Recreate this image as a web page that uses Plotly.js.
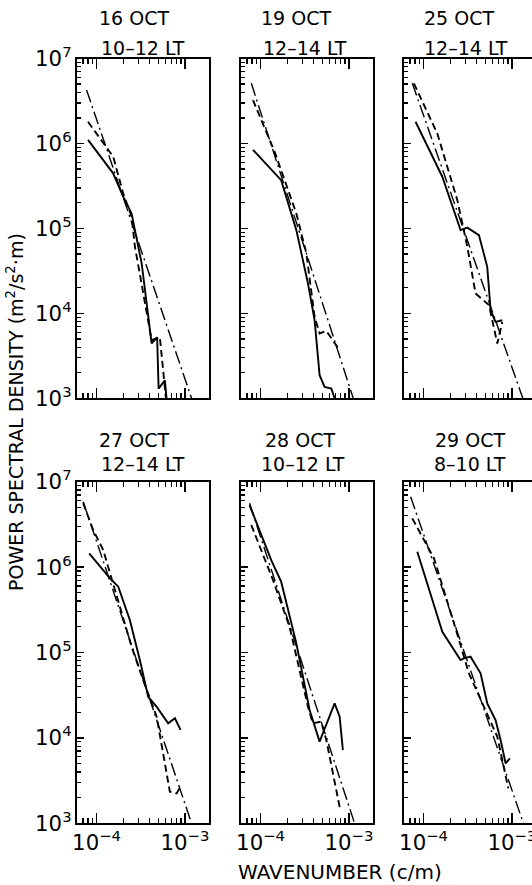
<!DOCTYPE html>
<html>
<head>
<meta charset="utf-8">
<script src="https://cdn.plot.ly/plotly-3.0.1.min.js"></script>
<style>
html,body{margin:0;padding:0;overflow:hidden;background:#fff;}
#chart{width:536px;height:885px;}
</style>
</head>
<body>
<div id="chart"></div>
<script>
// ---- Panel labels ----
const panelDates = ['16 OCT', '19 OCT', '25 OCT', '27 OCT', '28 OCT', '29 OCT'];
const panelTimes = ['10\u201312 LT', '12\u201314 LT', '12\u201314 LT', '12\u201314 LT', '10\u201312 LT', '8\u201310 LT'];

// ---- 16 OCT ----
const oct16SolidX = [8.0e-5, 1.54e-4, 2.0e-4, 2.49e-4, 3.24e-4, 4.2e-4, 4.85e-4, 5.04e-4, 5.93e-4, 6.2e-4];
const oct16SolidY = [1.1e6, 4.45e5, 2.36e5, 1.5e5, 3.87e4, 4.43e3, 5.2e3, 1.3e3, 1.63e3, 1.0e3];
const oct16DashX = [8.0e-5, 1.0e-4, 1.35e-4, 1.54e-4, 2.0e-4, 2.49e-4, 2.72e-4, 4.2e-4, 5.2e-4, 6.1e-4];
const oct16DashY = [1.8e6, 1.31e6, 8.4e5, 7.0e5, 2.58e5, 1.37e5, 6.07e4, 4.83e3, 5.28e3, 1.0e3];
const oct16FitX = [7.7e-5, 1.19e-3];
const oct16FitY = [4.26e6, 1.0e3];

// ---- 19 OCT ----
const oct19SolidX = [8.2e-5, 1.71e-4, 2.54e-4, 3.44e-4, 4.09e-4, 4.66e-4, 5.31e-4, 6.33e-4, 6.89e-4];
const oct19SolidY = [8.4e5, 3.7e5, 9.55e4, 2.25e4, 8.3e3, 1.87e3, 1.36e3, 1.3e3, 1.0e3];
const oct19DashX = [8.2e-5, 1.44e-4, 2.54e-4, 3.3e-4, 4.09e-4, 4.66e-4, 5.55e-4, 7.85e-4];
const oct19DashY = [3.24e6, 8.0e5, 1.5e5, 5.08e4, 9.1e3, 5.8e3, 6.2e3, 3.69e3];
const oct19FitX = [7.85e-5, 1.12e-3];
const oct19FitY = [5.1e6, 1.0e3];

// ---- 25 OCT ----
const oct25SolidX = [8.11e-5, 1.63e-4, 2.62e-4, 3.13e-4, 4.23e-4, 5.26e-4, 5.74e-4, 6.53e-4, 7.78e-4];
const oct25SolidY = [1.8e6, 4.06e5, 9.55e4, 1.02e5, 8.34e4, 3.53e4, 1.09e4, 7.94e3, 8.3e3];
const oct25DashX = [7.76e-5, 1.43e-4, 2.41e-4, 3.13e-4, 3.88e-4, 5.5e-4, 6.84e-4, 7.78e-4];
const oct25DashY = [5.1e6, 1.31e6, 2.15e5, 6.07e4, 1.71e4, 1.25e4, 4.42e3, 7.94e3];
const oct25FitX = [7.45e-5, 1.33e-3];
const oct25FitY = [5.1e6, 1.0e3];

// ---- 27 OCT ----
const oct27SolidX = [8.24e-5, 1.42e-4, 1.76e-4, 2.38e-4, 3.09e-4, 3.84e-4, 4.78e-4, 6.47e-4, 7.71e-4, 8.18e-4, 8.93e-4];
const oct27SolidY = [1.45e6, 7.4e5, 5.9e5, 2.4e5, 8.17e4, 3.03e4, 2.32e4, 1.48e4, 1.7e4, 1.48e4, 1.24e4];
const oct27DashX = [7.05e-5, 9.15e-5, 1.19e-4, 1.92e-4, 2.49e-4, 3.37e-4, 4.79e-4, 6.21e-4, 6.76e-4, 8.05e-4, 8.93e-4];
const oct27DashY = [5.6e6, 2.72e6, 1.58e6, 2.88e5, 1.17e5, 4.76e4, 1.77e4, 3.85e3, 2.34e3, 2.24e3, 2.69e3];
const oct27FitX = [7.05e-5, 1.19e-3];
const oct27FitY = [5.83e6, 1.0e3];

// ---- 28 OCT ----
const oct28SolidX = [7.5e-5, 1.32e-4, 1.71e-4, 2.54e-4, 3.59e-4, 4.66e-4, 6.89e-4, 7.85e-4, 8.55e-4];
const oct28SolidY = [5.33e6, 1.21e6, 6.75e5, 1.28e5, 2.12e4, 9.04e3, 2.54e4, 1.78e4, 7.2e3];
const oct28DashX = [7.85e-5, 1.38e-4, 2.13e-4, 3.44e-4, 3.91e-4, 4.86e-4, 5.55e-4, 7.85e-4, 8.2e-4];
const oct28DashY = [3.11e6, 7.06e5, 2.0e5, 2.32e4, 1.48e4, 1.55e4, 9.44e3, 1.56e3, 1.71e3];
const oct28FitX = [7.5e-5, 1.16e-3];
const oct28FitY = [5.58e6, 1.0e3];

// ---- 29 OCT ----
const oct29SolidX = [8.49e-5, 1.63e-4, 2.62e-4, 2.86e-4, 3.4e-4, 4.42e-4, 5.26e-4, 6.53e-4, 7.45e-4, 8.49e-4, 9.49e-4];
const oct29SolidY = [1.51e6, 1.75e5, 8.17e4, 8.55e4, 8.93e4, 5.7e4, 2.54e4, 1.62e4, 9.44e3, 5.04e3, 5.75e3];
const oct29DashX = [7.45e-5, 1.31e-4, 2.3e-4, 3.26e-4, 4.82e-4, 6.84e-4, 9.1e-4];
const oct29DashY = [3.72e6, 1.27e6, 1.92e5, 5.7e4, 2.32e4, 1.03e4, 2.57e3];
const oct29FitX = [7.13e-5, 1.35e-3];
const oct29FitY = [6.67e6, 1.0e3];

const yTitle = 'POWER SPECTRAL DENSITY (m<sup>2</sup>/s<sup>2</sup>\u00B7m)';
const xTitle = 'WAVENUMBER (c/m)';

const panels = [
  [oct16SolidX, oct16SolidY, oct16DashX, oct16DashY, oct16FitX, oct16FitY],
  [oct19SolidX, oct19SolidY, oct19DashX, oct19DashY, oct19FitX, oct19FitY],
  [oct25SolidX, oct25SolidY, oct25DashX, oct25DashY, oct25FitX, oct25FitY],
  [oct27SolidX, oct27SolidY, oct27DashX, oct27DashY, oct27FitX, oct27FitY],
  [oct28SolidX, oct28SolidY, oct28DashX, oct28DashY, oct28FitX, oct28FitY],
  [oct29SolidX, oct29SolidY, oct29DashX, oct29DashY, oct29FitX, oct29FitY]
];

const W = 536, H = 885;
const FONT = 'DejaVu Sans';
const colLeft = [77, 241, 404];
const colW = 132;
const rowTop = [58.5, 481.7];
const rowBot = [398.3, 823.3];
const line1Y = [18, 440];
const line2Y = [48, 464];
const line1X = [134, 296, 459, 134, 300, 470];
const line2X = [143, 305, 466, 143, 303, 470];
const xRange = [Math.log10(6e-5), Math.log10(6e-5) + colW / 88.3];

const traces = [];
const layout = {
  width: W, height: H,
  margin: {l: 0, r: 0, t: 0, b: 0},
  paper_bgcolor: '#fff', plot_bgcolor: '#fff',
  showlegend: false,
  font: {family: FONT, color: '#000'},
  annotations: []
};

panels.forEach((p, k) => {
  const row = Math.floor(k / 3), col = k % 3;
  const xa = k === 0 ? 'x' : 'x' + (k + 1);
  const ya = k === 0 ? 'y' : 'y' + (k + 1);
  const xKey = k === 0 ? 'xaxis' : 'xaxis' + (k + 1);
  const yKey = k === 0 ? 'yaxis' : 'yaxis' + (k + 1);

  traces.push({x: p[4], y: p[5], xaxis: xa, yaxis: ya, mode: 'lines', type: 'scatter',
    line: {color: '#000', width: 1.4, dash: '13px,4px,2px,4px'}, hoverinfo: 'skip'});
  traces.push({x: p[2], y: p[3], xaxis: xa, yaxis: ya, mode: 'lines', type: 'scatter',
    line: {color: '#000', width: 1.9, dash: '7px,4px'}, hoverinfo: 'skip'});
  traces.push({x: p[0], y: p[1], xaxis: xa, yaxis: ya, mode: 'lines', type: 'scatter',
    line: {color: '#000', width: 1.9}, hoverinfo: 'skip'});

  const x0 = colLeft[col], x1 = colLeft[col] + colW;
  layout[xKey] = {
    type: 'log', range: xRange, domain: [x0 / W, x1 / W], anchor: ya,
    showline: true, linecolor: '#000', linewidth: 2, mirror: 'ticks',
    ticks: 'inside', ticklen: 10, tickwidth: 1.5, tickcolor: '#000',
    dtick: 1, exponentformat: 'power', showexponent: 'all',
    showticklabels: row === 1, ticklabeloverflow: 'allow',
    tickfont: {family: FONT, size: 17, color: '#000'},
    showgrid: false, zeroline: false,
    minor: {ticks: 'inside', ticklen: 5, tickwidth: 1.3, tickcolor: '#000', dtick: 'D1', showgrid: false}
  };
  layout[yKey] = {
    type: 'log', range: [3, 7], domain: [1 - rowBot[row] / H, 1 - rowTop[row] / H], anchor: xa,
    showline: true, linecolor: '#000', linewidth: 2, mirror: true,
    ticks: 'inside', ticklen: 7, tickwidth: 1.5, tickcolor: '#000',
    dtick: 1, exponentformat: 'power', showexponent: 'all',
    showticklabels: col === 0,
    tickfont: {family: FONT, size: 17, color: '#000'},
    showgrid: false, zeroline: false,
    minor: {ticks: 'inside', ticklen: 4, tickwidth: 1.3, tickcolor: '#000', dtick: 'D1', showgrid: false}
  };

  layout.annotations.push({text: panelDates[k], xref: 'paper', yref: 'paper',
    x: line1X[k] / W, y: 1 - line1Y[row] / H, xanchor: 'center', yanchor: 'middle',
    showarrow: false, font: {family: FONT, size: 19, color: '#000'}});
  layout.annotations.push({text: panelTimes[k], xref: 'paper', yref: 'paper',
    x: line2X[k] / W, y: 1 - line2Y[row] / H, xanchor: 'center', yanchor: 'middle',
    showarrow: false, font: {family: FONT, size: 19, color: '#000'}});
});

layout.annotations.push({text: yTitle, xref: 'paper', yref: 'paper',
  x: 15 / W, y: 1 - 412 / H, xanchor: 'center', yanchor: 'middle', textangle: -90,
  showarrow: false, font: {family: FONT, size: 19, color: '#000'}});
layout.annotations.push({text: xTitle, xref: 'paper', yref: 'paper',
  x: 340 / W, y: 1 - 872 / H, xanchor: 'center', yanchor: 'middle',
  showarrow: false, font: {family: FONT, size: 20, color: '#000'}});

Plotly.newPlot('chart', traces, layout, {staticPlot: true, displayModeBar: false});
</script>
</body>
</html>
